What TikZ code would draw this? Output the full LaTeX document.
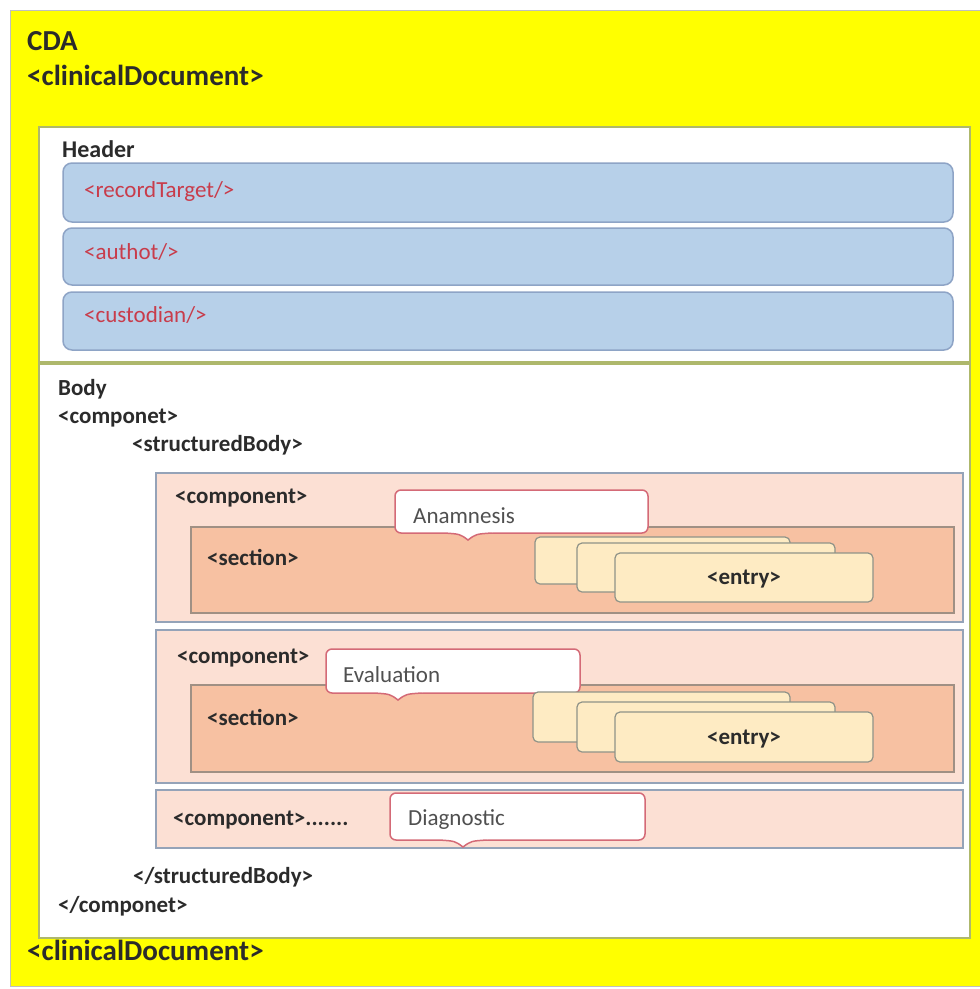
\documentclass[tikz,border=0pt]{standalone}
\usepackage{fontspec}
\setmainfont{Carlito}
\definecolor{cdayellow}{HTML}{FFFF00}
\definecolor{partline}{HTML}{AEB86C}
\definecolor{hdrblue}{HTML}{B7D0E9}
\definecolor{hdrline}{HTML}{8EA4C6}
\definecolor{compfill}{HTML}{FCE0D4}
\definecolor{compline}{HTML}{95A3B8}
\definecolor{sectfill}{HTML}{F7C1A2}
\definecolor{sectline}{HTML}{A09084}
\definecolor{entryfill}{HTML}{FEEBC3}
\definecolor{entryline}{HTML}{8F9388}
\definecolor{callline}{HTML}{D46A77}
\definecolor{txt}{HTML}{2B2B2B}
\definecolor{redtxt}{HTML}{C83C4B}
\definecolor{graytxt}{HTML}{505050}
% #1 left x, #2 right x, #3 top y, #4 bottom y, #5 pointer tip x
\newcommand\mycallout[5]{%
  \draw[callout] (#1,#3) rectangle (#2,#4);
  \fill[white] ({#5-24},{#4-2}) -- ({#5+24},{#4-2}) -- ({#5+24},#4)
    .. controls ({#5+8},{#4+1}) .. (#5,{#4+7}) .. controls ({#5-8},{#4+1}) .. ({#5-24},#4) -- cycle;
  \draw[callpointer] ({#5+24},#4) .. controls ({#5+8},{#4+1}) .. (#5,{#4+7})
    .. controls ({#5-8},{#4+1}) .. ({#5-24},#4);}
\tikzset{
  box/.style={anchor=north west, inner sep=0, outer sep=0},
  outer/.style={box, fill=cdayellow, draw=gray!50, line width=0.8},
  part/.style={box, fill=white, draw=partline, line width=2},
  hdr/.style={box, fill=hdrblue, draw=hdrline, line width=1.5, rounded corners=9},
  comp/.style={box, fill=compfill, draw=compline, line width=1.5},
  sect/.style={box, fill=sectfill, draw=sectline, line width=1.2},
  entrybox/.style={box, fill=entryfill, draw=entryline, line width=1.2, rounded corners=5},
  callout/.style={fill=white, draw=callline, line width=1.5, rounded corners=6},
  callpointer/.style={draw=callline, line width=1.5},
  lbl/.style={anchor=base west, inner sep=0, text=txt, font=\bfseries\fontsize{23}{23}\selectfont},
  biglbl/.style={lbl, font=\bfseries\fontsize{29}{29}\selectfont},
  hdrlbl/.style={lbl, font=\bfseries\fontsize{24}{24}\selectfont},
  redlbl/.style={anchor=base west, inner sep=0, text=redtxt, font=\fontsize{23}{23}\selectfont},
  calllbl/.style={anchor=base west, inner sep=0, text=graytxt, font=\fontsize{23}{23}\selectfont},
  entrylbl/.style={text=txt, font=\bfseries\fontsize{23}{23}\selectfont},
}
\begin{document}
\begin{tikzpicture}[x=1pt,y=-1pt]
\useasboundingbox (0,0) rectangle (980,989);
\fill[white] (0,0) rectangle (980,989);
% outer document
\node[outer, minimum width=970, minimum height=976] (cda) at (10,10) {};
\node[biglbl] (cdat) at (27,50) {CDA};
\node[biglbl] (cdopen) at (27,85) {<clinicalDocument>};
% header
\node[part, minimum width=931, minimum height=235] (header) at (39,127) {};
\node[hdrlbl] (headert) at (62,157) {Header};
\node[hdr, minimum width=890, minimum height=59] (rt) at (63,163) {};
\node[hdr, minimum width=890, minimum height=57] (au) at (63,228) {};
\node[hdr, minimum width=890, minimum height=58] (cu) at (63,292) {};
\node[redlbl] (rtt) at (84,197) {<recordTarget/>};
\node[redlbl] (aut) at (84,259) {<authot/>};
\node[redlbl] (cut) at (84,322) {<custodian/>};
% body
\node[part, minimum width=931, minimum height=574] (body) at (39,364) {};
\node[lbl] (bodyt) at (58,395) {Body};
\node[lbl] (compo) at (58,423) {<componet>};
\node[lbl] (sbo) at (132,451) {<structuredBody>};
% component 1
\node[comp, minimum width=807, minimum height=149] (c1) at (156,473) {};
\node[sect, minimum width=763, minimum height=86] (s1) at (191,527) {};
\node[lbl] (c1t) at (175,503) {<component>};
\node[lbl] (s1t) at (207,565) {<section>};
\mycallout{395}{648}{490}{533}{468}
\node[calllbl] (ana) at (413,523) {Anamnesis};
\node[entrybox, minimum width=255, minimum height=47] (e1a) at (535,537) {};
\node[entrybox, minimum width=258, minimum height=49] (e1b) at (577,543) {};
\node[entrybox, minimum width=258, minimum height=49] (e1c) at (615,553) {};
\node[entrylbl] (e1t) at ([yshift=-2pt]e1c.center) {<entry>};
% component 2
\node[comp, minimum width=807, minimum height=153] (c2) at (156,630) {};
\node[sect, minimum width=763, minimum height=87] (s2) at (191,685) {};
\node[lbl] (c2t) at (177,663) {<component>};
\node[lbl] (s2t) at (207,725) {<section>};
\mycallout{326}{580}{649}{693}{398}
\node[calllbl] (eva) at (343,682) {Evaluation};
\node[entrybox, minimum width=257, minimum height=50] (e2a) at (533,692) {};
\node[entrybox, minimum width=258, minimum height=50] (e2b) at (577,702) {};
\node[entrybox, minimum width=258, minimum height=50] (e2c) at (615,712) {};
\node[entrylbl] (e2t) at ([yshift=-2pt]e2c.center) {<entry>};
% component 3
\node[comp, minimum width=807, minimum height=58] (c3) at (156,790) {};
\node[lbl] (c3t) at (173,825) {<component>.......};
\mycallout{390}{645}{793}{840}{463}
\node[calllbl] (dia) at (408,825) {Diagnostic};
% closing
\node[lbl] (sbc) at (133,883) {</structuredBody>};
\node[lbl] (compc) at (58,912) {</componet>};
\node[biglbl] (cdclose) at (27,960) {<clinicalDocument>};
\end{tikzpicture}
\end{document}
